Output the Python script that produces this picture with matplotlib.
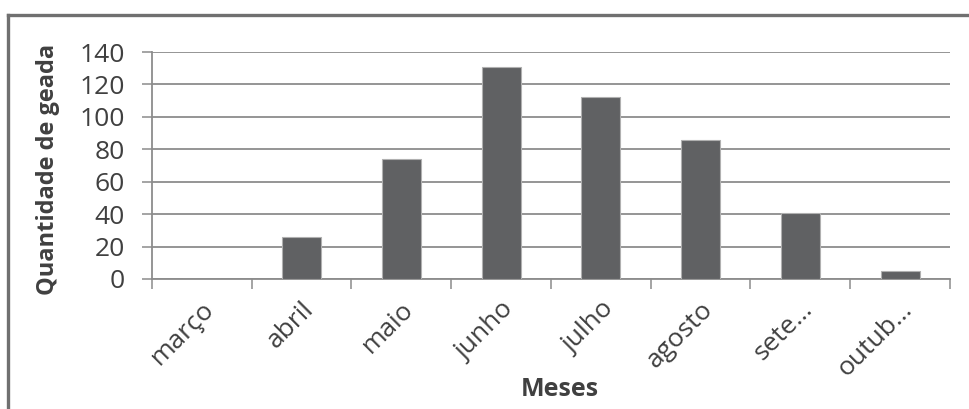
import matplotlib.pyplot as plt
from matplotlib.lines import Line2D
import numpy as np

# monthly frost counts
meses = ["março", "abril", "maio", "junho", "julho", "agosto", "sete…", "outub…"]
geadas = [0, 26, 74, 131, 112, 86, 41, 5]

plt.rcParams['font.family'] = ['Open Sans', 'DejaVu Sans']
text_color = "#404040"
grid_color = "#8c8c8c"

fig = plt.figure(figsize=(9.7, 4.09), dpi=100)
ax = fig.add_axes([152 / 970, 1 - 279 / 409, 798 / 970, 227 / 409])

x = np.arange(len(meses))
ax.bar(x, geadas, width=0.39, color="#606163", edgecolor="#b0b0b0", linewidth=0.8, zorder=3)

ax.set_xlim(-0.5, len(meses) - 0.5)
ax.set_ylim(0, 140)
ax.set_yticks(np.arange(0, 141, 20))
ax.yaxis.grid(True, color=grid_color, linewidth=1.3, zorder=0)

# category boundaries get tick marks, centers get the labels
ax.set_xticks(np.arange(-0.5, len(meses), 1.0))
ax.set_xticklabels([])
ax.set_xticks(x, minor=True)
ax.set_xticklabels(meses, minor=True, rotation=45, ha="right", va="top",
                   rotation_mode="anchor", fontsize=19, color=text_color)
ax.tick_params(axis="x", which="minor", length=0, pad=13)
ax.tick_params(axis="x", which="major", length=7.5, width=1.1, color=grid_color)
ax.tick_params(axis="y", length=7.5, width=1.1, color=grid_color, labelsize=19,
               labelcolor=text_color, pad=12)

for side in ["top", "right"]:
    ax.spines[side].set_visible(False)
for side in ["left", "bottom"]:
    ax.spines[side].set_color(grid_color)
    ax.spines[side].set_linewidth(1.3)

ax.set_ylabel("Quantidade de geada", fontsize=17, fontweight="bold", color=text_color, va="center")
ax.yaxis.set_label_coords(-104 / 798, 0.5 - 4 / 227)
ax.set_xlabel("Meses", fontsize=18, fontweight="bold", color=text_color, va="center")
ax.xaxis.set_label_coords(0.5 + 9 / 798, -111 / 227)

# outer frame of the chart area
fig.add_artist(Line2D([8 / 970, 1], [1 - 15 / 409] * 2, transform=fig.transFigure, color="#707070", lw=2.4))
fig.add_artist(Line2D([8 / 970] * 2, [0, 1 - 15 / 409], transform=fig.transFigure, color="#707070", lw=2.4))

fig.savefig("out.png", dpi=100)
